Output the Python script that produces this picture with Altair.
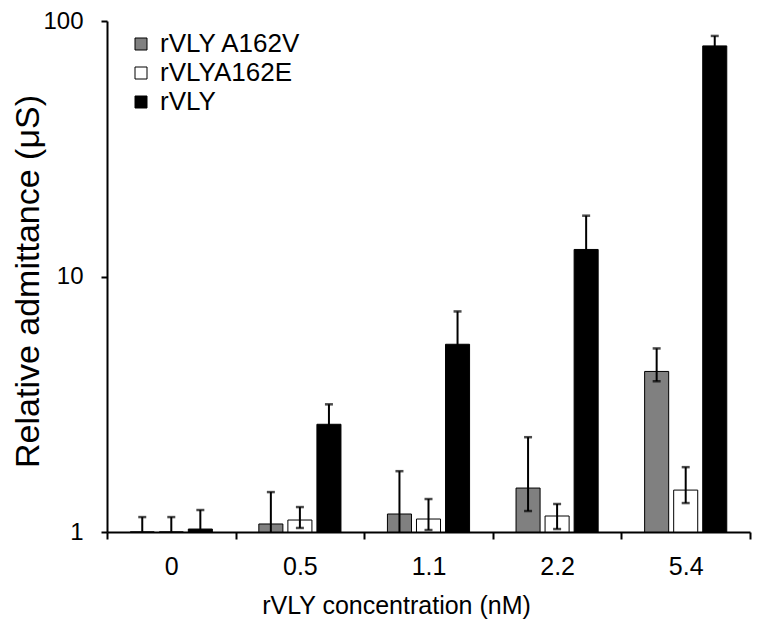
import altair as alt
import pandas as pd

conc = ["0", "0.5", "1.1", "2.2", "5.4"]
series = ["rVLY A162V", "rVLYA162E", "rVLY"]
colors = ["#808080", "#ffffff", "#000000"]

a162v_mean = [1.0, 1.075, 1.176, 1.486, 4.25]
a162v_upper = [1.144, 1.433, 1.73, 2.35, 5.23]
a162v_lower = [0.856, 0.717, 0.622, 1.208, 3.89]

a162e_mean = [1.0, 1.114, 1.124, 1.155, 1.459]
a162e_upper = [1.144, 1.252, 1.346, 1.287, 1.794]
a162e_lower = [0.856, 1.037, 1.018, 1.027, 1.298]

rvly_mean = [1.027, 2.64, 5.43, 12.76, 79.9]
rvly_upper = [1.219, 3.16, 7.30, 17.3, 87.4]
rvly_lower = [0.835, 2.12, 3.56, 8.2, 72.4]

rows = []
for s, m, u, l in [
    (series[0], a162v_mean, a162v_upper, a162v_lower),
    (series[1], a162e_mean, a162e_upper, a162e_lower),
    (series[2], rvly_mean, rvly_upper, rvly_lower),
]:
    for c, mv, uv, lv in zip(conc, m, u, l):
        rows.append({"conc": c, "series": s, "mean": mv, "upper": uv, "lower": lv})
df = pd.DataFrame(rows)

FONT = "Liberation Sans"

x_enc = alt.X(
    "conc:N",
    sort=conc,
    scale=alt.Scale(paddingInner=0, paddingOuter=0),
    axis=alt.Axis(
        title="rVLY concentration (nM)",
        labelAngle=0,
        tickBand="extent",
        tickSize=7,
        labelPadding=15,
        labelFontSize=25,
        titleFontSize=25,
        titlePadding=14,
        titleX=289,
    ),
)
xoff_enc = alt.XOffset(
    "series:N",
    sort=series,
    scale=alt.Scale(paddingInner=0.172, paddingOuter=0.80),
)
y_scale = alt.Scale(type="log", domain=[1, 100], nice=False)

bars = alt.Chart(df).mark_bar(stroke="black", strokeWidth=1).encode(
    x=x_enc,
    xOffset=xoff_enc,
    y=alt.Y(
        "mean:Q",
        scale=y_scale,
        axis=alt.Axis(
            title="Relative admittance (μS)",
            values=[1, 10, 100],
            format="d",
            tickSize=6,
            labelPadding=18,
            labelFontSize=24,
            titleFontSize=34,
            titleX=-69,
            titleY=260,
            titleBaseline="alphabetic",
            grid=False,
        ),
    ),
    y2=alt.datum(1),
    color=alt.Color(
        "series:N",
        sort=series,
        scale=alt.Scale(domain=series, range=colors),
        legend=alt.Legend(
            title=None,
            orient="none",
            legendX=21,
            legendY=10,
            symbolType="square",
            symbolSize=144,
            symbolStrokeColor="black",
            symbolStrokeWidth=1,
            labelFontSize=26,
            labelFont=FONT,
            labelColor="black",
            labelOffset=6,
            rowPadding=3,
        ),
    ),
)

rules = alt.Chart(df).mark_rule(color="black", strokeWidth=2, clip=True).encode(
    x=alt.X("conc:N", sort=conc),
    xOffset=alt.XOffset("series:N", sort=series),
    y=alt.Y("lower:Q", scale=y_scale),
    y2="upper:Q",
)

caps_up = alt.Chart(df).mark_tick(
    color="black", thickness=2.5, size=8, orient="horizontal", clip=True
).encode(
    x=alt.X("conc:N", sort=conc),
    xOffset=alt.XOffset("series:N", sort=series),
    y=alt.Y("upper:Q", scale=y_scale),
)

caps_low = alt.Chart(df).mark_tick(
    color="black", thickness=2.5, size=8, orient="horizontal", clip=True
).encode(
    x=alt.X("conc:N", sort=conc),
    xOffset=alt.XOffset("series:N", sort=series),
    y=alt.Y("lower:Q", scale=y_scale),
)

chart = (
    alt.layer(bars, rules, caps_up, caps_low)
    .properties(
        width=643,
        height=511,
        autosize=alt.AutoSizeParams(type="none"),
        padding={"left": 99, "top": 13, "right": 2, "bottom": 92},
        background="white",
    )
    .configure_view(stroke=None)
    .configure_axis(
        domainColor="black",
        domainWidth=2,
        tickColor="black",
        tickWidth=2,
        labelFont=FONT,
        titleFont=FONT,
        labelColor="black",
        titleColor="black",
        titleFontWeight="normal",
        grid=False,
    )
)

chart.save("out.html", embed_options={"renderer": "svg", "actions": False})
